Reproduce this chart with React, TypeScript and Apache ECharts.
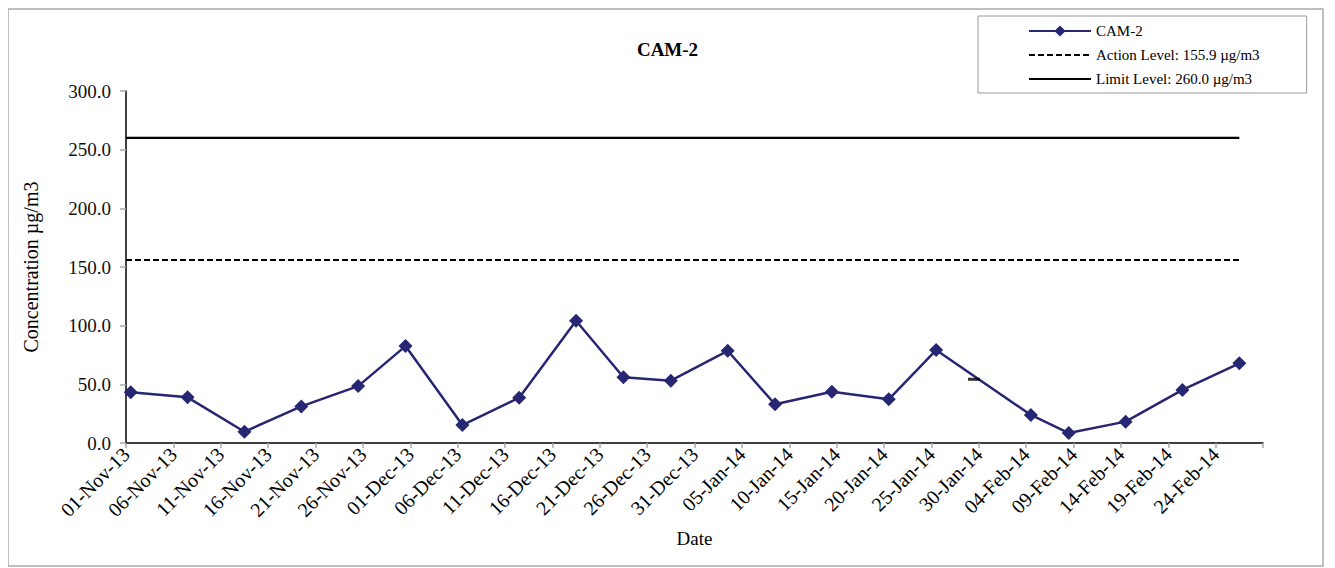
import React, { useEffect, useRef } from "react";
import * as echarts from "echarts";

const sampleDates = [
  "2013-11-01", "2013-11-07", "2013-11-13", "2013-11-19", "2013-11-25", "2013-11-30",
  "2013-12-06", "2013-12-12", "2013-12-18", "2013-12-23", "2013-12-28",
  "2014-01-03", "2014-01-08", "2014-01-14", "2014-01-20", "2014-01-25",
  "2014-02-04", "2014-02-08", "2014-02-14", "2014-02-20", "2014-02-26",
];
const cam2Values = [
  43.2, 38.9, 9.6, 31.2, 48.5, 82.6,
  15.3, 38.6, 104.2, 56.0, 53.1,
  78.6, 33.0, 43.7, 37.2, 79.2,
  23.9, 8.5, 18.2, 45.2, 67.9,
];
const strayDates = ["2014-01-29"];
const strayValues = [54.3];

const actionLevel = 155.9;
const limitLevel = 260.0;
const axisStart = "2013-11-01";
const axisEnd = "2014-03-01";
const tickDays = 5;
const yTicks = [0, 50, 100, 150, 200, 250, 300];
const months = ["Jan", "Feb", "Mar", "Apr", "May", "Jun", "Jul", "Aug", "Sep", "Oct", "Nov", "Dec"];

const DAY = 86400000;
const toUtc = (s: string) => {
  const [y, m, d] = s.split("-").map(Number);
  return Date.UTC(y, m - 1, d);
};
const dayIndex = (s: string) => (toUtc(s) - toUtc(axisStart)) / DAY;
const fmtDay = (v: number) => {
  const dt = new Date(toUtc(axisStart) + v * DAY);
  const dd = String(dt.getUTCDate()).padStart(2, "0");
  const yy = String(dt.getUTCFullYear()).slice(2);
  return `${dd}-${months[dt.getUTCMonth()]}-${yy}`;
};

const FONT = "Liberation Serif";
const CAM_NAME = "CAM-2";
const ACTION_NAME = "Action Level: 155.9 µg/m3";
const LIMIT_NAME = "Limit Level: 260.0 µg/m3";

export default function App() {
  const ref = useRef<HTMLDivElement>(null);
  useEffect(() => {
    if (!ref.current) return;
    const chart = echarts.init(ref.current, undefined, { renderer: "svg" });
    const maxDay = dayIndex(axisEnd);
    const camData = sampleDates.map((d, i) => [dayIndex(d) + 0.5, cam2Values[i]]);
    const strayData = strayDates.map((d, i) => [dayIndex(d) + 0.5, strayValues[i]]);
    const lastX = dayIndex(sampleDates[sampleDates.length - 1]) + 0.5;
    chart.setOption({
      animation: false,
      title: {
        text: "CAM-2",
        left: "center",
        top: 27,
        textStyle: { fontFamily: FONT, fontSize: 19, fontWeight: "bold", color: "#000" },
      },
      legend: {
        data: [
          { name: CAM_NAME },
          { name: ACTION_NAME, itemStyle: { opacity: 0 } },
          { name: LIMIT_NAME, itemStyle: { opacity: 0 } },
        ],
        orient: "vertical",
        left: 970,
        top: 8,
        width: 335,
        padding: [7, 47, 6, 50],
        itemWidth: 62,
        itemHeight: 14,
        itemGap: 8,
        borderColor: "#999",
        borderWidth: 1,
        textStyle: { fontFamily: FONT, fontSize: 15, color: "#000", lineHeight: 16 },
      },
      graphic: [
        {
          type: "rect",
          shape: { x: 0, y: 1, width: 1315, height: 557 },
          style: { fill: "none", stroke: "#aaa", lineWidth: 1.5 },
          silent: true,
        },
      ],
      grid: { left: 118, right: 64, top: 83, bottom: 125 },
      xAxis: {
        type: "value",
        min: 0,
        max: maxDay,
        interval: tickDays,
        name: "Date",
        nameLocation: "middle",
        nameGap: 86,
        nameTextStyle: { fontFamily: FONT, fontSize: 19, color: "#000" },
        axisLine: { lineStyle: { color: "#000", width: 1.5 } },
        axisTick: { show: true, length: 5, lineStyle: { color: "#aaa", width: 1.5 } },
        splitLine: { show: false },
        axisLabel: {
          rotate: 45,
          margin: 8,
          fontFamily: FONT,
          fontSize: 20,
          color: "#000",
          formatter: (v: number) => (v >= maxDay ? "" : fmtDay(v)),
        },
      },
      yAxis: {
        type: "value",
        min: yTicks[0],
        max: yTicks[yTicks.length - 1],
        interval: yTicks[1] - yTicks[0],
        name: "Concentration µg/m3",
        nameLocation: "middle",
        nameRotate: 90,
        nameGap: 85,
        nameTextStyle: { fontFamily: FONT, fontSize: 20, color: "#000" },
        axisLine: { show: true, lineStyle: { color: "#000", width: 1.5 } },
        axisTick: { show: true, length: 6, lineStyle: { color: "#aaa", width: 1.5 } },
        splitLine: { show: false },
        axisLabel: {
          margin: 15,
          fontFamily: FONT,
          fontSize: 19,
          color: "#111",
          formatter: (v: number) => v.toFixed(1),
        },
      },
      series: [
        {
          name: CAM_NAME,
          type: "line",
          data: camData,
          symbol: "diamond",
          symbolSize: 14,
          color: "#262673",
          lineStyle: { color: "#262673", width: 2.5 },
          itemStyle: { color: "#262673" },
          z: 3,
        },
        {
          name: ACTION_NAME,
          type: "line",
          data: [[0, actionLevel], [lastX, actionLevel]],
          symbol: "none",
          color: "#000",
          lineStyle: { color: "#000", width: 2, type: [6, 3] },
        },
        {
          name: LIMIT_NAME,
          type: "line",
          data: [[0, limitLevel], [lastX, limitLevel]],
          symbol: "none",
          color: "#000",
          lineStyle: { color: "#000", width: 2.2 },
        },
        {
          name: "stray",
          type: "scatter",
          data: strayData,
          symbol: "rect",
          symbolSize: [12, 3],
          itemStyle: { color: "#000" },
          z: 4,
        },
      ],
    });
    return () => chart.dispose();
  }, []);
  return <div ref={ref} style={{ width: 1319, height: 560 }} />;
}
